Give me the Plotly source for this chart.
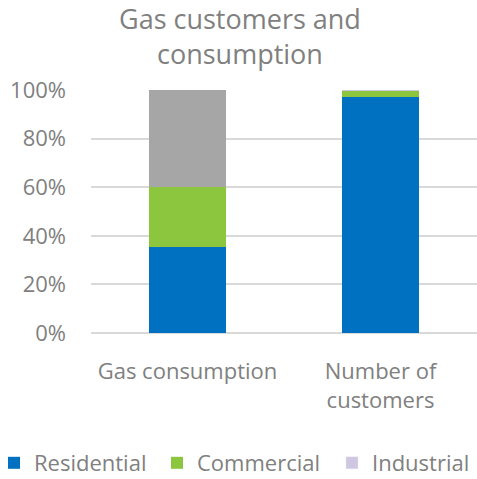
import plotly.graph_objects as go

categories = ["Gas consumption", "Number of<br>customers"]
residential = [35.5, 97.0]
commercial = [24.5, 2.6]
industrial = [40.0, 0.4]
industrial_colors = ["#A6A6A6", "#CFC6E0"]
tick_vals = [0, 20, 40, 60, 80, 100]
tick_text = ["0%", "20%", "40%", "60%", "80%", "100%"]
title_text = "Gas customers and<br>consumption"

TXT = "#808080"
FONT = "Open Sans"

fig = go.Figure()
fig.add_trace(go.Bar(name="Residential", x=categories, y=residential, legendwidth=118,
                     marker=dict(color="#0070C0", line=dict(width=0)), width=0.4))
fig.add_trace(go.Bar(name="Commercial", x=categories, y=commercial, legendwidth=130,
                     marker=dict(color="#8CC63E", line=dict(width=0)), width=0.4))
fig.add_trace(go.Bar(name="Industrial", x=categories, y=industrial, showlegend=False,
                     marker=dict(color=industrial_colors, line=dict(width=0)), width=0.4))
# legend entry for Industrial (series colour)
fig.add_trace(go.Bar(name="Industrial", x=categories, y=[None, None], legendwidth=98,
                     marker=dict(color="#CFC6E0"), hoverinfo="skip"))

fig.add_annotation(text=title_text, xref="paper", yref="paper", x=0.386, y=1.222,
                   xanchor="center", yanchor="middle", showarrow=False,
                   font=dict(size=27, color=TXT, family=FONT))

fig.update_layout(
    width=477, height=479,
    barmode="stack",
    paper_bgcolor="white", plot_bgcolor="white",
    font=dict(family=FONT, color=TXT, size=22),
    margin=dict(l=91, r=0, t=90, b=146, autoexpand=False),
    xaxis=dict(showgrid=False, showline=False, ticks="", ticklabelstandoff=23,
               tickfont=dict(size=22, color=TXT)),
    yaxis=dict(range=[0, 100], tickvals=tick_vals, ticktext=tick_text,
               showgrid=True, gridcolor="#D9D9D9", gridwidth=1.5, zeroline=True,
               zerolinecolor="#D9D9D9", zerolinewidth=1.5, showline=False, ticks="",
               ticklabelstandoff=24, tickfont=dict(size=22, color=TXT)),
    legend=dict(orientation="h", x=-0.2513, xanchor="left", xref="paper",
                y=-0.535, yanchor="middle", yref="paper",
                font=dict(size=22, color=TXT), traceorder="normal"),
    showlegend=True,
)

fig.write_html("out.html", config={"displayModeBar": False},
               post_script="document.body.style.margin='0';document.body.style.overflow='hidden';")
